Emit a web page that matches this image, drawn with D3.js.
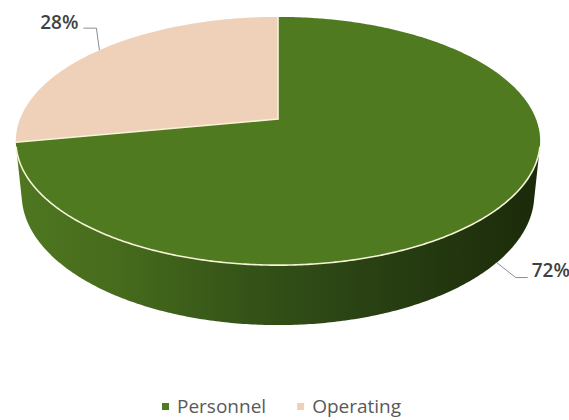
<!DOCTYPE html>
<html>
<head>
<meta charset="utf-8">
<script src="https://cdn.jsdelivr.net/npm/d3@7/dist/d3.min.js"></script>
<style>
  html, body { margin: 0; padding: 0; background: #ffffff; }
  svg { display: block; }
  text { font-family: "Open Sans", "Noto Sans", sans-serif; }
</style>
</head>
<body>
<svg id="chart" width="569" height="420"></svg>
<script>
// Budget split
const categories = ["Personnel", "Operating"];
const values = [72, 28];
const percentLabels = ["72%", "28%"];
const colors = ["#4f7a20", "#efd0b8"];

const svg = d3.select("#chart");

// 3D disc seen from above in perspective
const cx = 278, cy = 119;
const sinT = 0.466, cosT = Math.sqrt(1 - sinT * sinT);
const dist = 5.64 * cosT;   // camera distance (disc radius = 1)
const focal = 258 * dist;
const depth = 0.236;        // disc thickness

function project(theta, y) {
  const X = Math.sin(theta), Z = Math.cos(theta);
  const up = y * cosT + Z * sinT;
  const dep = dist + Z * cosT - y * sinT;
  return [cx + focal * X / dep, cy - focal * up / dep];
}
function projectCenter(y) {
  const up = y * cosT;
  const dep = dist - y * sinT;
  return [cx, cy - focal * up / dep];
}

const pie = d3.pie().sort(null).value(d => d)(values);
const arcs = pie.map((p, i) => ({ ...p, name: categories[i], color: colors[i], label: percentLabels[i] }));

function sampleAngles(a0, a1) {
  const n = Math.max(2, Math.ceil((a1 - a0) / 0.01));
  return d3.range(n + 1).map(k => a0 + (a1 - a0) * k / n);
}

const defs = svg.append("defs");
const grad = defs.append("linearGradient")
  .attr("id", "wallGreen").attr("gradientUnits", "userSpaceOnUse")
  .attr("x1", 14).attr("x2", 542).attr("y1", 0).attr("y2", 0);
[[0, "#4f7720"], [0.2, "#466b1c"], [0.45, "#345218"], [0.7, "#283f12"], [1, "#1b2a0a"]]
  .forEach(([o, c]) => grad.append("stop").attr("offset", o).attr("stop-color", c));

// front-facing range of the outer wall: cos(theta) < -1/(dist*cosT)
const limit = Math.acos(-1 / (dist * cosT));
const frontA = limit, frontB = 2 * Math.PI - limit;

const wallG = svg.append("g");
arcs.forEach(a => {
  const t0 = Math.max(a.startAngle, frontA), t1 = Math.min(a.endAngle, frontB);
  if (t1 <= t0) return;
  const ts = sampleAngles(t0, t1);
  const pts = ts.map(t => project(t, 0)).concat(ts.slice().reverse().map(t => project(t, -depth)));
  wallG.append("path")
    .attr("d", "M" + pts.map(p => p.join(",")).join("L") + "Z")
    .attr("fill", a.index === 0 ? "url(#wallGreen)" : d3.color(a.color).darker(0.8));
});

// top faces
const topG = svg.append("g");
arcs.forEach(a => {
  const c = projectCenter(0);
  const pts = [c].concat(sampleAngles(a.startAngle, a.endAngle).map(t => project(t, 0)));
  topG.append("path")
    .attr("d", "M" + pts.map(p => p.join(",")).join("L") + "Z")
    .attr("fill", a.color);
});

// light edges: slice boundaries and the front rim
const edgeG = svg.append("g")
  .attr("fill", "none").attr("stroke", "#f6f3d8")
  .attr("stroke-width", 1.6).attr("stroke-linecap", "round");
arcs.forEach(a => {
  edgeG.append("path").attr("d", d3.line()([projectCenter(0), project(a.startAngle, 0)]));
});
edgeG.append("path")
  .attr("d", d3.line()(sampleAngles(frontA, frontB).map(t => project(t, 0))));

// data labels with leader lines
const lblG = svg.append("g");
arcs.forEach(a => {
  const mid = (a.startAngle + a.endAngle) / 2;
  const front = Math.cos(mid) < 0;
  const anchor = front ? project(mid, -depth) : project(mid, 0);
  let pts, tx, ty, ta;
  if (front) {
    const elbow = [anchor[0] + 19, anchor[1] + 15];
    pts = [anchor, elbow, [elbow[0] + 12, elbow[1]]];
    tx = elbow[0] + 16; ty = elbow[1] - 1; ta = "start";
  } else {
    const elbow = [anchor[0] - 3, anchor[1] - 22];
    pts = [anchor, elbow, [elbow[0] - 13, elbow[1]]];
    tx = elbow[0] - 18; ty = elbow[1] + 1; ta = "end";
  }
  lblG.append("path")
    .attr("d", d3.line()(pts))
    .attr("fill", "none").attr("stroke", "#8c8c8c").attr("stroke-width", 1);
  lblG.append("text")
    .attr("x", tx).attr("y", ty)
    .attr("text-anchor", ta)
    .attr("font-size", 19).attr("font-weight", 600)
    .attr("fill", "#404040")
    .text(a.label);
});

// legend
const legend = svg.append("g").attr("transform", "translate(162,413)");
let lx = 0;
categories.forEach((name, i) => {
  const g = legend.append("g").attr("transform", `translate(${lx},0)`);
  g.append("rect").attr("x", 0).attr("y", -10).attr("width", 7).attr("height", 7).attr("fill", colors[i]);
  const t = g.append("text").attr("x", 15).attr("y", 0)
    .attr("font-size", 19).attr("fill", "#595959").text(name);
  lx += 15 + t.node().getComputedTextLength() + 31;
});
</script>
</body>
</html>
